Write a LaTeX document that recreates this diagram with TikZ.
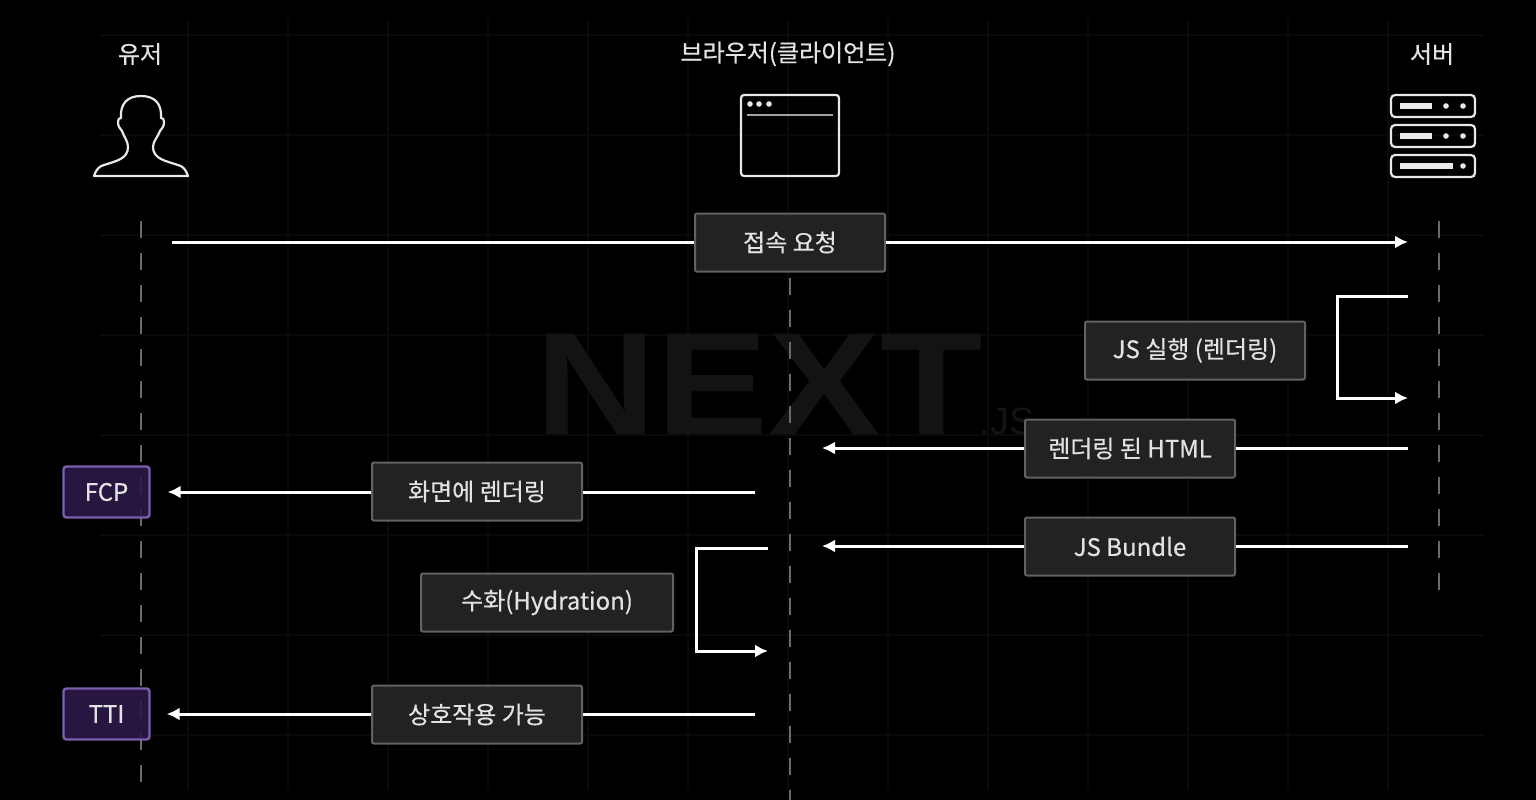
\documentclass[tikz,border=0pt]{standalone}
\usepackage{fontspec}
\setmainfont{Noto Sans CJK KR}[FakeBold=0.5]
\newfontfamily\logofont{Liberation Sans}
\usetikzlibrary{arrows.meta,calc}
\definecolor{pagebg}{HTML}{000000}
\definecolor{gridgray}{HTML}{090909}
\definecolor{logogray}{HTML}{131313}
\definecolor{lifegray}{HTML}{6A6A6A}
\definecolor{iconwhite}{HTML}{E8E8E8}
\definecolor{boxfill}{HTML}{222222}
\definecolor{boxline}{HTML}{626262}
\definecolor{labelgray}{HTML}{E2E2E2}
\definecolor{markfill}{HTML}{2C1A48}
\definecolor{markline}{HTML}{7B5EAE}
\tikzset{
  steplabel/.style={draw=boxline,fill=boxfill,line width=2pt,rounded corners=2pt,text=labelgray,font=\fontsize{24}{24}\selectfont,minimum height=58pt,inner sep=0pt},
  marklabel/.style={draw=markline,fill=markfill,fill opacity=0.9,text opacity=1,line width=2.4pt,rounded corners=3pt,text=labelgray,font=\fontsize{24}{24}\selectfont,minimum width=86pt,minimum height=51pt,inner sep=0pt},
  actorlabel/.style={text=labelgray,font=\fontsize{24}{24}\selectfont,inner sep=0pt},
  flow/.style={draw=white,line width=3pt},
  flowtip/.style={flow,-{Latex[length=13pt,width=13pt]}},
  lifeline/.style={draw=lifegray,line width=2.5pt,dash pattern=on 17pt off 15pt},
  icon/.style={draw=iconwhite,line width=2.2pt}
}
\begin{document}
\begin{tikzpicture}[x=1pt,y=-1pt]
\fill[pagebg] (0,0) rectangle (1536,800);
\useasboundingbox (0,0) rectangle (1536,800);

\foreach \gx in {188,288,...,1388} \draw[gridgray,line width=1.2pt] (\gx,20) -- (\gx,790);
\foreach \gy in {35,135,...,735} \draw[gridgray,line width=1.2pt] (100,\gy) -- (1484,\gy);
\node[text=logogray,font=\logofont\bfseries\fontsize{146}{146}\selectfont,xscale=1.15,inner sep=0pt] (logo) at (759,384) {NEXT};
\node[text=logogray,font=\logofont\fontsize{38}{38}\selectfont,inner sep=0pt] (logojs) at (1007,421) {.JS};

\node[actorlabel] (usertitle) at (140,54) {유저};
\node[actorlabel] (browsertitle) at (788,54) {브라우저(클라이언트)};
\node[actorlabel] (servertitle) at (1432,54) {서버};

\draw[icon,line join=round] (94,176) .. controls (96,170) and (99,166) .. (104,165) .. controls (116,161) and (128,159) .. (128,147) .. controls (128,141) and (124,137) .. (122,131) .. controls (120,128) and (118,127) .. (118,122) .. controls (118,119) and (119,118) .. (121,118) .. controls (120,104) and (127,96) .. (141,96) .. controls (155,96) and (162,104) .. (161,118) .. controls (163,118) and (164,119) .. (164,122) .. controls (164,127) and (162,128) .. (160,131) .. controls (158,137) and (153,141) .. (153,147) .. controls (153,159) and (166,161) .. (178,165) .. controls (183,166) and (186,170) .. (188,176) -- cycle;

\draw[icon,rounded corners=3pt] (741,95) rectangle (839,176);
\foreach \dx in {750,759,769} \fill[iconwhite] (\dx,104) circle (2.8pt);
\draw[iconwhite!70!black,line width=1.2pt] (747,115) -- (833,115);

\foreach \sy in {95,125,155} \draw[icon,rounded corners=4pt] (1391,\sy) rectangle (1475,\sy+22);
\foreach \sy in {106,136} {
  \fill[iconwhite] (1400,\sy-3) rectangle (1432,\sy+3);
  \fill[iconwhite] (1446,\sy) circle (2.8pt);
  \fill[iconwhite] (1463,\sy) circle (2.8pt);
}
\fill[iconwhite] (1400,163) rectangle (1453,169);
\fill[iconwhite] (1463,166) circle (2.8pt);

\draw[lifeline] (141,221) -- (141,790);
\draw[lifeline] (790,278) -- (790,800);
\draw[lifeline] (1439,221) -- (1439,590);

\node[steplabel,minimum width=190pt] (request) at (790,242.5) {접속 요청};
\node[steplabel,minimum width=220pt] (jsrun) at (1195,350.5) {JS 실행 (렌더링)};
\node[steplabel,minimum width=210pt] (html) at (1130,448.5) {렌더링 된 HTML};
\node[steplabel,minimum width=210pt] (paint) at (477,491.5) {화면에 렌더링};
\node[steplabel,minimum width=210pt] (bundle) at (1130,546.5) {JS Bundle};
\node[steplabel,minimum width=252pt] (hydrate) at (547,602.5) {수화(Hydration)};
\node[steplabel,minimum width=210pt] (interact) at (477,714.5) {상호작용 가능};
\node[marklabel] (fcp) at (106.5,492) {FCP};
\node[marklabel] (tti) at (106.5,714) {TTI};

\coordinate (reqstart) at (172,242);
\coordinate (reqend) at (1408,242);
\coordinate (runstart) at (1408,296);
\coordinate (runend) at (1408,398);
\coordinate (htmlstart) at (1408,448);
\coordinate (htmlend) at (822,448);
\coordinate (paintstart) at (755,492);
\coordinate (bundlestart) at (1408,546);
\coordinate (bundleend) at (822,546);
\coordinate (hydstart) at (768,548);
\coordinate (hydend) at (768,651);
\coordinate (actstart) at (755,714);

\draw[flow] (reqstart) -- (reqstart -| request.west);
\draw[flowtip] (reqend -| request.east) -- (reqend);
\draw[flowtip] (runstart) -- ++(-71,0) |- (runend);
\draw[flow] (htmlstart) -- (htmlstart -| html.east);
\draw[flowtip] (htmlend -| html.west) -- (htmlend);
\draw[flow] (paintstart) -- (paintstart -| paint.east);
\draw[flowtip] (paintstart -| paint.west) -- ($(fcp.east)+(17,0)$);
\draw[flow] (bundlestart) -- (bundlestart -| bundle.east);
\draw[flowtip] (bundleend -| bundle.west) -- (bundleend);
\draw[flowtip] (hydstart) -- ++(-72,0) |- (hydend);
\draw[flow] (actstart) -- (actstart -| interact.east);
\draw[flowtip] (actstart -| interact.west) -- ($(tti.east)+(16,0)$);
\end{tikzpicture}
\end{document}
